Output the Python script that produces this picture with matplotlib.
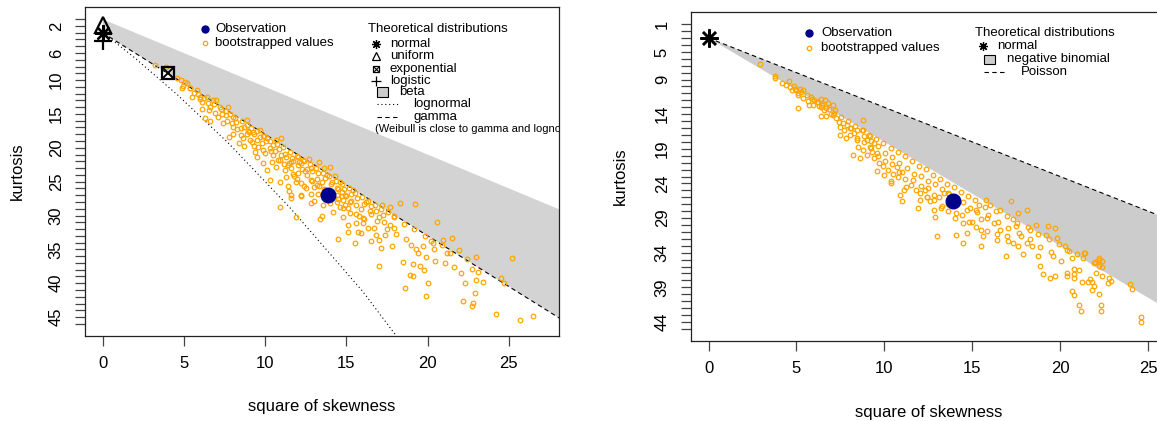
import matplotlib
matplotlib.use("Agg")
import matplotlib.pyplot as plt
from matplotlib.patches import Rectangle

plt.rcParams['font.family'] = ['Liberation Sans', 'DejaVu Sans']

W, H = 1157, 421

# ---------------- continuous data (left panel) ----------------
obs_cont_s2, obs_cont_k = 13.85, 26.9
boot_cont_s2 = [3.2, 3.9, 4.6, 4.8, 5.2, 4.9, 5.4, 5.8, 5.5, 6.0, 6.4, 6.8, 6.1, 6.1, 6.6, 7.0, 7.2, 7.7, 7.6, 8.0,
                7.1, 6.3, 6.6, 7.4, 8.0, 8.5, 8.9, 8.0, 7.8, 8.5, 9.0, 9.3, 9.5, 9.1, 9.7, 10.1, 9.3, 9.9, 10.3, 10.7,
                11.0, 10.5, 11.0, 11.3, 11.5, 9.9, 10.1, 10.7, 11.2, 11.7, 10.3, 10.9, 11.4, 11.9, 11.6, 9.4, 8.7, 8.4, 9.5,
                11.9, 10.9, 11.6, 12.2, 12.8, 13.5, 13.4, 14.7, 14.6, 14.8, 15.1, 15.7, 15.9, 15.1, 15.5, 14.5, 16.1, 16.5,
                16.7, 17.0, 17.3, 17.4, 17.0, 16.5, 17.7, 17.9, 17.9, 17.1, 17.8, 18.5, 17.0, 18.6, 18.9, 19.1, 19.1, 19.5,
                19.8, 19.9, 20.0, 19.0, 19.4, 19.7, 20.2, 19.9, 20.4, 20.6, 20.9, 21.2, 21.5, 21.4, 21.6, 22.2, 22.3, 22.8,
                22.7, 22.9, 23.0, 23.0, 22.4, 22.7, 23.1, 23.4, 24.2, 24.5, 24.7, 25.2, 25.7, 26.5, 18.3, 19.2,
                12.0, 12.3, 12.6, 12.9, 13.2, 13.5, 13.0, 12.5, 12.2, 13.8, 14.1, 14.4, 14.7, 14.3, 15.0, 15.3, 14.9, 15.6,
                15.9, 16.2, 16.5, 13.6, 14.0, 14.6, 13.3, 12.7, 12.0, 11.6, 11.8, 12.4, 14.5, 15.4, 13.0, 12.2, 11.5, 12.8,
                14.0, 15.2, 16.0, 16.8, 17.2, 14.2,
                5.05, 4.95, 5.35, 5.62, 5.88, 5.97, 6.23, 6.47, 6.55, 6.85, 6.93, 7.27, 7.36, 7.58, 7.66, 7.85, 7.96, 8.15,
                8.24, 8.29, 8.55, 8.68, 8.62, 8.87, 8.95, 9.14, 9.27, 9.21, 9.53, 9.66, 9.58, 9.94, 10.07, 10.02, 10.33,
                10.46, 10.38, 10.44, 10.75, 10.86, 10.81, 11.13, 11.25, 11.18, 11.27, 11.55, 11.67, 11.62, 11.95, 12.06,
                12.03, 11.98, 12.35, 12.47, 12.42, 12.76, 12.85, 12.81, 13.14, 13.26, 13.18, 13.23, 13.55, 13.67, 13.62,
                13.58, 13.95, 14.06, 14.03, 13.97, 14.36, 14.47, 14.42, 14.75, 14.86, 14.81, 14.77, 15.16, 15.27, 15.22,
                15.55, 15.66, 15.62, 15.57, 15.95, 16.06, 16.03, 16.35, 16.47, 16.76, 16.86, 16.82, 17.15, 17.26, 17.55,
                17.66, 17.96, 18.07, 18.55, 18.67, 19.15, 19.26, 19.85, 20.35, 20.46, 20.96, 21.05, 21.95, 22.06,
                9.8, 10.6, 11.4, 12.2, 12.9, 13.7, 14.4, 15.1, 8.9, 9.9, 10.9, 11.7, 12.6, 13.3, 14.9, 15.8, 16.3, 17.5]
boot_cont_k = [7.8, 8.0, 9.7, 10.0, 10.5, 11.2, 11.2, 11.5, 12.5, 12.5, 12.5, 13.0, 13.2, 14.2, 13.9, 13.0, 13.9, 13.9,
               15.2, 15.4, 15.4, 15.6, 16.1, 16.4, 16.9, 17.1, 15.9, 17.9, 18.4, 18.1, 17.6, 17.9, 18.8, 18.8, 17.4, 18.6,
               19.8, 20.3, 20.1, 18.8, 18.6, 21.1, 21.1, 21.3, 22.3, 22.3, 23.3, 22.8, 23.3, 23.8, 24.8, 25.0, 25.7, 25.0,
               27.0, 20.6, 19.8, 19.3, 21.3,
               30.2, 28.7, 27.4, 27.1, 28.1, 30.0, 30.5, 27.1, 28.8, 30.2, 31.4, 32.4, 32.6, 32.4, 34.0, 33.4, 30.5, 29.8,
               31.9, 30.2, 31.0, 32.9, 33.6, 33.8, 28.8, 30.0, 31.9, 34.8, 34.5, 36.9, 37.4, 40.7, 38.8, 39.0, 37.1, 37.4,
               38.1, 41.9, 40.0, 34.3, 35.5, 34.5, 33.8, 36.2, 35.0, 31.0, 34.3, 35.5, 33.3, 35.5, 37.6, 42.6, 40.0, 42.9,
               43.3, 41.4, 39.5, 36.2, 36.4, 37.9, 38.3, 39.8, 44.5, 39.3, 40.0, 36.3, 45.5, 44.9, 28.1, 28.3,
               22.5, 23.2, 24.0, 23.5, 24.6, 25.1, 25.8, 26.0, 25.2, 24.0, 25.0, 25.9, 26.5, 24.1, 27.1, 27.8, 28.4, 28.4,
               29.1, 28.0, 28.6, 23.0, 22.8, 25.0, 22.1, 21.7, 21.4, 22.1, 24.1, 22.0, 27.6, 26.2, 27.8, 27.0, 26.4, 26.8,
               28.2, 29.6, 30.3, 29.4, 28.4, 29.5,
               10.35, 10.8, 11.15, 11.9, 12.1, 12.75, 12.6, 13.35, 14.4, 13.55, 14.85, 14.3, 15.05, 14.55, 16.1, 15.0,
               16.35, 15.65, 16.15, 17.25, 16.05, 16.9, 18.55, 16.6, 17.45, 17.05, 17.6, 19.2, 17.55, 18.35, 19.85, 18.2,
               19.05, 20.75, 18.95, 19.65, 20.5, 22.05, 19.45, 20.25, 21.8, 19.95, 20.85, 22.35, 24.25, 20.65, 21.45,
               23.05, 21.15, 22.05, 23.75, 24.55, 21.85, 23.45, 25.65, 22.35, 23.05, 24.75, 23.05, 23.75, 25.55, 26.75,
               23.65, 24.45, 26.05, 28.45, 24.15, 25.35, 26.75, 27.35, 24.85, 26.15, 28.05, 25.35, 26.05, 27.65, 28.95,
               25.95, 26.75, 28.05, 26.65, 27.35, 29.75, 31.05, 27.25, 28.35, 31.15, 27.85, 29.35, 28.45, 30.75, 32.85,
               29.05, 29.95, 29.55, 31.45, 30.25, 32.75, 31.25, 33.45, 32.05, 34.95, 33.05, 34.05, 36.75, 33.65, 36.95,
               35.05, 38.55,
               19.3, 20.5, 22.6, 22.3, 24.9, 26.2, 26.9, 28.9, 17.9, 18.2, 21.8, 21.9, 23.1, 25.7, 27.0, 30.1, 31.9, 32.0]

# theoretical curves (continuous)
beta_top_s2 = [0.0, 30.0]
beta_top_k = [1.0, 31.0]
gamma_s2 = [0.0, 30.0]
gamma_k = [3.0, 48.0]
lnorm_s2 = [0.0, 0.17, 0.96, 2.05, 4.62, 7.78, 11.55, 16.0, 18.2]
lnorm_k = [3.0, 3.3, 4.76, 6.85, 12.2, 19.4, 28.9, 41.2, 48.2]
dist_names = ['normal', 'uniform', 'exponential', 'logistic']
dist_s2 = [0.0, 0.0, 4.0, 0.0]
dist_k = [3.0, 1.8, 9.0, 4.2]

# ---------------- discrete data (right panel) ----------------
obs_disc_s2, obs_disc_k = 13.9, 26.6
boot_disc_s2 = [2.95, 3.77, 3.8, 4.2, 4.6, 4.85, 4.9, 5.2, 5.4, 5.1, 5.8, 6.0, 6.2, 6.4, 6.6, 6.8, 7.1, 7.2, 6.7, 6.4,
                5.7, 5.1, 6.4, 6.7, 7.1, 7.4, 7.5, 7.9, 7.7, 8.1, 7.5, 7.8, 8.3, 8.45, 8.8, 8.8, 9.2, 9.0, 8.5, 8.8, 9.2,
                9.4, 9.3, 9.6, 8.2, 8.6, 9.0, 9.7, 9.4,
                10.35, 10.9, 11.0, 11.1, 11.9, 12.0, 12.3, 12.4, 12.8, 12.9, 13.0, 13.4, 13.6, 14.1, 14.1, 14.5, 14.5, 14.7,
                14.7, 15.0, 15.2, 15.4, 15.5, 15.5, 15.6, 15.5, 15.8, 15.9, 16.0, 16.25, 16.4, 16.6, 16.6, 16.9, 17.0, 17.2,
                17.3, 17.3, 17.5, 17.6, 17.8, 17.9, 18.1, 18.1, 18.3, 18.4, 18.6, 18.75, 18.85, 19.0, 19.2, 19.3, 19.4, 19.6,
                19.7, 19.8, 20.3, 20.4, 20.7, 20.7, 20.8, 21.1, 21.25, 21.35, 21.7, 21.9, 22.0, 22.2, 22.3, 22.4, 22.4, 22.8,
                24.0, 24.6, 20.5, 19.7,
                20.4, 21.4, 21.3, 22.2, 22.4, 22.2, 20.8, 20.4, 20.8, 21.6, 21.8, 21.8, 22.2, 22.7, 22.9, 24.1, 20.8, 21.2,
                22.3, 24.6,
                9.9, 10.2, 10.5, 10.0, 10.8, 10.4, 9.6, 10.7, 11.2, 11.5, 11.0, 11.8, 12.1, 12.5, 12.8, 13.1, 12.6, 13.3, 13.6,
                4.42, 4.66, 4.74, 4.97, 5.06, 5.27, 5.35, 5.58, 5.66, 5.86, 5.95, 6.17, 6.26, 6.46, 6.55, 6.86, 6.95, 7.16,
                7.26, 7.55, 7.66, 7.95, 8.06, 8.02, 8.35, 8.46, 8.42, 8.75, 8.86, 8.82, 9.15, 9.26, 9.22, 9.55, 9.66, 9.62,
                9.95, 10.06, 10.02, 10.35, 10.46, 10.42, 10.75, 10.86, 10.82, 11.15, 11.26, 11.22, 11.55, 11.66, 11.62,
                11.95, 12.06, 12.02, 12.35, 12.46, 12.42, 12.75, 12.86, 12.82, 13.15, 13.26, 13.22, 13.55, 13.66, 13.62,
                13.95, 14.06, 14.02, 14.35, 14.46, 14.42, 14.75, 14.86, 14.82, 15.15, 15.26, 15.22, 15.75, 15.86, 15.82,
                16.35, 16.46, 16.42, 16.95, 17.06, 17.02, 17.55, 17.66, 17.62, 18.15, 18.26, 18.75, 18.86, 19.35, 19.46,
                19.95, 20.06, 20.95, 21.06, 21.95, 22.06]
boot_disc_k = [6.8, 8.5, 8.8, 9.5, 9.2, 9.9, 10.3, 10.3, 10.5, 11.2, 11.5, 11.9, 12.2, 11.8, 11.9, 12.4, 12.7, 13.4, 13.1,
               12.9, 12.7, 13.1, 14.2, 14.3, 14.1, 15.1, 15.8, 15.5, 16.3, 16.0, 17.0, 17.5, 16.7, 17.5, 14.8, 16.3, 17.2,
               17.7, 18.7, 19.2, 18.7, 18.2, 19.4, 19.6, 19.9, 20.4, 19.9, 21.1, 20.4,
               24.0, 25.7, 26.6, 25.0, 27.5, 26.4, 25.0, 25.9, 27.8, 28.8, 31.6, 25.4, 26.9, 28.3, 31.4, 29.7, 32.6, 27.8,
               31.1, 29.5, 27.8, 27.1, 29.2, 30.7, 31.6, 33.0, 26.4, 28.5, 27.1, 29.7, 32.1, 30.7, 27.8, 34.5, 31.6, 26.6,
               29.2, 32.6, 30.2, 28.3, 31.6, 34.2, 27.8, 32.6, 30.7, 33.0, 29.95, 34.5, 35.9, 37.1, 31.4, 30.2, 37.6, 34.5,
               30.4, 31.9, 33.0, 36.9, 34.7, 39.5, 37.1, 41.6, 38.3, 34.0, 37.8, 38.8, 35.4, 34.7, 41.6, 35.2, 37.3, 37.6,
               38.5, 43.3, 33.8, 37.3,
               33.6, 34.1, 34.8, 35.1, 36.0, 35.9, 36.4, 37.4, 37.6, 38.2, 38.3, 39.4, 39.9, 38.4, 38.1, 39.2, 40.1, 42.4,
               42.4, 44.0,
               21.5, 22.0, 22.6, 22.8, 23.0, 23.6, 22.2, 21.6, 23.4, 24.2, 22.4, 25.0, 24.3, 24.7, 25.6, 26.0, 26.6, 27.2, 25.4,
               9.85, 10.05, 10.55, 10.45, 10.95, 10.85, 11.65, 11.25, 12.05, 11.75, 12.65, 12.25, 12.85, 12.65, 13.45,
               13.25, 13.95, 13.85, 14.55, 14.45, 15.25, 14.95, 16.05, 16.95, 15.65, 16.35, 17.75, 16.25, 17.15, 18.05,
               16.95, 17.85, 18.95, 17.65, 18.55, 20.05, 18.15, 19.65, 20.75, 18.85, 20.15, 21.25, 19.45, 21.05, 22.35,
               20.05, 21.75, 24.45, 20.75, 22.65, 23.45, 21.45, 22.95, 25.35, 21.95, 23.65, 25.95, 22.85, 24.15, 26.35,
               23.35, 24.85, 27.55, 24.05, 25.55, 28.05, 24.55, 26.05, 28.95, 25.25, 26.75, 28.55, 25.75, 27.55, 29.55,
               26.45, 28.15, 30.25, 27.35, 29.05, 30.85, 28.05, 29.55, 31.25, 28.75, 30.45, 32.35, 29.65, 31.15, 33.05,
               30.35, 32.05, 31.25, 33.15, 32.05, 33.95, 32.75, 35.25, 34.15, 36.55, 35.45, 36.95]

poisson_s2 = [0.0, 30.0]
poisson_k = [3.0, 33.0]
negbin_low_s2 = [0.0, 30.0]
negbin_low_k = [3.0, 48.0]

left_ylabels = [2, 6, 10, 15, 20, 25, 30, 35, 40, 45]
right_ylabels = [1, 5, 9, 14, 19, 24, 29, 34, 39, 44]
xticks = [0, 5, 10, 15, 20, 25]

ORANGE = '#FFA500'
NAVY = '#00008B'
AXC = '#222222'

fig = plt.figure(figsize=(W / 100, H / 100), dpi=100)


def fx(px):
    return px / W


def fy(py):
    return 1 - py / H


def make_axes(left, top, right, bottom):
    return fig.add_axes([fx(left), fy(bottom), fx(right) - fx(left), fy(top) - fy(bottom)])


def style_axes(ax, xlim, ylim, yticks_range, shown, xlab_dy, ylab_dx):
    ax.set_xlim(*xlim)
    ax.set_ylim(*ylim)
    ax.set_xticks(xticks)
    ax.set_xticklabels([str(v) for v in xticks])
    ax.set_yticks(yticks_range)
    ax.set_yticklabels([str(v) if v in shown else '' for v in yticks_range])
    for s in ax.spines.values():
        s.set_linewidth(0.9)
        s.set_color(AXC)
    ax.tick_params(axis='both', length=7.2, width=0.9, color='#444444', labelsize=12)
    ax.tick_params(axis='x', pad=7.5)
    ax.tick_params(axis='y', pad=13.5)
    plt.setp(ax.get_yticklabels(), rotation=90, ha='center', va='center')
    ax.set_xlabel('square of skewness', fontsize=12, va='center')
    ax.set_ylabel('kurtosis', fontsize=12, va='center')
    ax.xaxis.set_label_coords(0.5, xlab_dy)
    ax.yaxis.set_label_coords(ylab_dx, 0.5)


def legend_text(ax, px, py, s, size=9.5):
    ax.text(fx(px), fy(py), s, transform=fig.transFigure, fontsize=size, va='center', ha='left',
            clip_on=True)


def legend_marker(ax, px, py, **kw):
    ax.plot([fx(px)], [fy(py)], transform=fig.transFigure, clip_on=False, linestyle='none', **kw)


def legend_line(ax, px0, px1, py, **kw):
    ax.plot([fx(px0), fx(px1)], [fy(py), fy(py)], transform=fig.transFigure, clip_on=False, color='black',
            lw=0.8, **kw)


# ================= left: continuous =================
ax = make_axes(85, 7, 559, 336)
style_axes(ax, (-1.08, 28.08), (47.8, -0.8), list(range(1, 47)), left_ylabels, -70 / 329, -68 / 474)

ax.fill(beta_top_s2 + gamma_s2[::-1], beta_top_k + gamma_k[::-1], color='#D3D3D3', lw=0, zorder=1)
ax.plot(gamma_s2, gamma_k, color='black', lw=0.8, dashes=(4, 3), zorder=2)
ax.plot(lnorm_s2, lnorm_k, color='black', lw=0.8, dashes=(1, 2.5), zorder=2)

# theoretical distribution markers
ax.plot(dist_s2[0], dist_k[0], linestyle='none', marker=(8, 2, 0), ms=12, mew=1.6, color='black', zorder=4)
ax.plot(dist_s2[1], dist_k[1], linestyle='none', marker='^', ms=12, mew=1.6, mfc='none', mec='black', zorder=4)
ax.plot(dist_s2[2], dist_k[2], linestyle='none', marker='s', ms=8.5, mew=1.6, mfc='none', mec='black', zorder=4)
ax.plot(dist_s2[2], dist_k[2], linestyle='none', marker='x', ms=7, mew=1.4, color='black', zorder=4)
ax.plot(dist_s2[3], dist_k[3], linestyle='none', marker='+', ms=13, mew=1.6, color='black', zorder=4)

ax.plot(boot_cont_s2, boot_cont_k, linestyle='none', marker='o', ms=3.3, mew=0.9, mfc='none', mec=ORANGE, zorder=3)
ax.plot(obs_cont_s2, obs_cont_k, linestyle='none', marker='o', ms=10.5, color=NAVY, zorder=5)

# legends (left)
legend_marker(ax, 205, 29, marker='o', ms=5, color=NAVY)
legend_text(ax, 215, 29, 'Observation')
legend_marker(ax, 205, 43, marker='o', ms=3.2, mew=0.9, mfc='none', mec=ORANGE)
legend_text(ax, 215, 43, 'bootstrapped values')

legend_text(ax, 368, 29, 'Theoretical distributions')
legend_marker(ax, 376, 44, marker=(8, 2, 0), ms=6.5, mew=0.9, color='black')
legend_text(ax, 390, 44, 'normal')
legend_marker(ax, 376, 56, marker='^', ms=6, mew=0.9, mfc='none', mec='black')
legend_text(ax, 390, 56, 'uniform')
legend_marker(ax, 376, 69, marker='s', ms=5, mew=0.9, mfc='none', mec='black')
legend_marker(ax, 376, 69, marker='x', ms=4, mew=0.8, color='black')
legend_text(ax, 390, 69, 'exponential')
legend_marker(ax, 376, 81, marker='+', ms=7.5, mew=0.9, color='black')
legend_text(ax, 390, 81, 'logistic')
ax.add_patch(Rectangle((fx(377), fy(97)), fx(11), 10 / H, transform=fig.transFigure, facecolor='#CCCCCC',
                       edgecolor='black', lw=0.8, clip_on=False))
legend_text(ax, 399, 92, 'beta')
legend_line(ax, 377, 398, 104, dashes=(1, 2.5))
legend_text(ax, 413, 104, 'lognormal')
legend_line(ax, 377, 398, 117, dashes=(4, 3))
legend_text(ax, 413, 117, 'gamma')
legend_text(ax, 375, 128.5, '(Weibull is close to gamma and lognormal)', size=8)

# ================= right: discrete =================
ax2 = make_axes(691, 12, 1165.6, 341)
style_axes(ax2, (-1.0, 26.0), (46.76, -0.76), list(range(1, 46)), right_ylabels, -71 / 329, -71 / 474.6)

ax2.fill(poisson_s2 + negbin_low_s2[::-1], poisson_k + negbin_low_k[::-1], color='#CCCCCC', lw=0, zorder=1)
ax2.plot(poisson_s2, poisson_k, color='black', lw=0.8, dashes=(4, 3), zorder=2)
ax2.plot(0.0, 3.0, linestyle='none', marker=(8, 2, 0), ms=13, mew=1.8, color='black', zorder=4)

ax2.plot(boot_disc_s2, boot_disc_k, linestyle='none', marker='o', ms=3.3, mew=0.9, mfc='none', mec=ORANGE, zorder=3)
ax2.plot(obs_disc_s2, obs_disc_k, linestyle='none', marker='o', ms=10.5, color=NAVY, zorder=5)

legend_marker(ax2, 809, 33, marker='o', ms=5, color=NAVY)
legend_text(ax2, 821, 33, 'Observation')
legend_marker(ax2, 809, 48, marker='o', ms=3.2, mew=0.9, mfc='none', mec=ORANGE)
legend_text(ax2, 821, 48, 'bootstrapped values')
legend_text(ax2, 975, 33, 'Theoretical distributions')
legend_marker(ax2, 983, 46, marker=(8, 2, 0), ms=6.5, mew=0.9, color='black')
legend_text(ax2, 997, 46, 'normal')
ax2.add_patch(Rectangle((fx(984), fy(64)), fx(11), 9 / H, transform=fig.transFigure, facecolor='#CCCCCC',
                        edgecolor='black', lw=0.8, clip_on=False))
legend_text(ax2, 1007, 59, 'negative binomial')
legend_line(ax2, 984, 1007, 72, dashes=(4, 3))
legend_text(ax2, 1021, 72, 'Poisson')

fig.savefig('out.png', dpi=100)
